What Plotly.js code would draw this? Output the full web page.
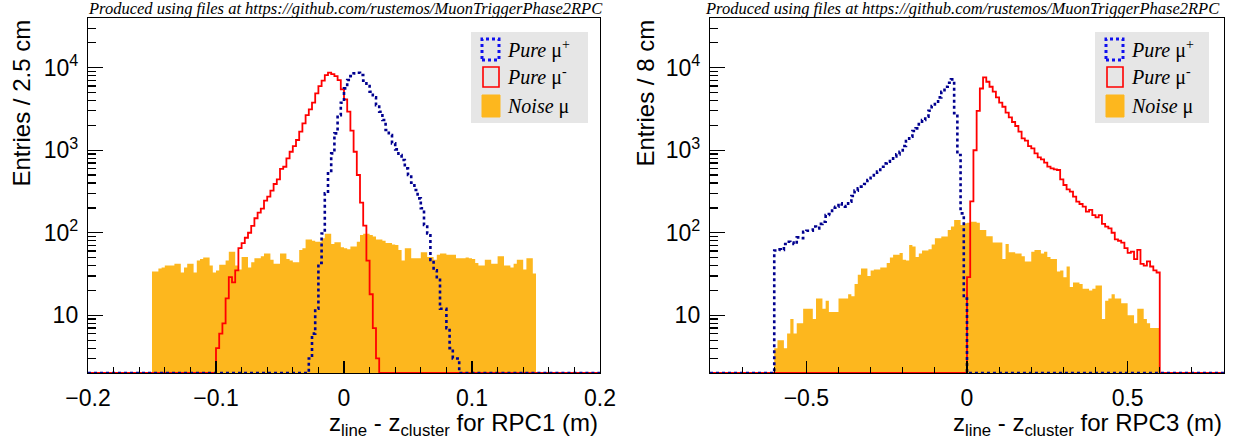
<!DOCTYPE html>
<html>
<head>
<meta charset="utf-8">
<script src="https://cdn.plot.ly/plotly-3.0.1.min.js"></script>
<style>
  html, body { margin: 0; padding: 0; background: #ffffff; }
  #chart { width: 1235px; height: 443px; }
</style>
</head>
<body>
<div id="chart"></div>
<script>
// ---------------- DATA ----------------
// RPC1 histograms: 160 bins of 0.0025 m from -0.2 to 0.2
const rpc1Range = [-0.2, 0.2];
const rpc1BinWidth = 0.0025;
const rpc1NoiseStart = -0.15;
const rpc1Noise = [34,34,37,38,40,40,40,42,42,33,38,42,42,33,46,48,50,50,40,33,
  35,41,41,46,59,59,40,36,51,51,38,44,49,49,52,56,56,47,42,42,
  56,56,48,46,44,44,62,65,83,83,80,78,78,86,97,97,73,77,77,67,
  65,63,68,68,78,94,97,97,94,90,83,83,80,75,75,72,71,62,46,65,
  65,49,49,49,58,58,51,51,47,54,56,56,54,54,54,49,49,49,50,49,
  48,43,40,40,47,47,42,42,52,52,40,40,38,42,47,47,36,49,49,32];
const rpc1MinusStart = -0.1;
const rpc1Minus = [4,6,8,16,29,25,35,65,75,87,100,121,150,175,196,245,274,324,390,444,
  595,631,796,959,1124,1330,1677,2114,2666,3124,3765,4886,5994,6954,8148,8695,8376,7920,7085,5458,
  4130,2930,1725,959,501,232,122,46,18,7,3];
const rpc1PlusStart = -0.0275;
const rpc1Plus = [3,6,12,43,98,300,525,916,1600,2666,3765,5610,7085,7920,8530,8695,8148,6954,5994,5117,
  4365,3524,2930,2322,1758,1528,1211,1025,875,761,603,501,404,330,261,198,124,98,47,35,
  27,12,12,7,4,3,3];

// RPC3 histograms: 160 bins of 0.01 m from -0.8 to 0.8
const rpc3Range = [-0.8, 0.8];
const rpc3BinWidth = 0.01;
const rpc3NoiseStart = -0.6;
const rpc3Noise = [4,5,5,4,6,9,6,8,8,12,12,12,9,16,16,12,15,11,11,11,
  16,16,16,18,17,24,31,37,37,30,35,36,36,38,38,43,50,54,54,57,
  47,46,71,68,51,56,61,61,63,72,86,86,90,90,108,119,143,143,124,130,
  132,136,136,132,108,108,91,91,76,76,76,48,73,58,58,56,56,52,45,45,
  59,62,62,56,59,51,48,48,34,35,29,39,22,25,25,24,21,21,20,21,
  23,23,9,15,16,18,16,16,14,14,10,10,8,12,12,9,8,7,7,7];
const rpc3PlusStart = -0.6;
const rpc3Plus = [61,63,62,73,78,76,73,88,86,103,106,106,119,113,128,136,164,169,201,207,
  227,211,207,238,279,324,345,362,390,436,465,501,550,632,693,726,789,843,891,959,
  1124,1292,1458,1708,1839,2077,2322,2548,3013,3430,3870,4365,5117,5880,6570,7210,2800,875,172,16];
const rpc3MinusStart = 0.0;
const rpc3Minus = [29,240,1000,3000,5600,7640,6760,5880,5115,4365,3765,3365,2850,2500,2197,1965,1677,1392,1304,1124,
  1054,916,820,775,706,632,603,587,576,444,379,336,315,274,238,223,207,180,189,164,
  154,164,128,119,113,100,83,80,76,65,57,59,48,62,42,40,45,39,35,33];

const yRangeVals = [2, 40000];
const seriesNames = ['Pure \u03bc+', 'Pure \u03bc-', 'Noise \u03bc'];

// ---------------- HELPERS ----------------
const W = 1235, H = 443;
const PX = x => x / W;
const PY = y => 1 - y / H;
const FILL_FLOOR = 1; // below the axis minimum so the fill reaches the frame

function fullCounts(range, w, start, vals) {
  const n = Math.round((range[1] - range[0]) / w);
  const arr = new Array(n).fill(0);
  const i0 = Math.round((start - range[0]) / w);
  vals.forEach((v, j) => { arr[i0 + j] = v; });
  return arr;
}
function stepTrace(range, w, start, vals, xa, ya, line, name) {
  const counts = fullCounts(range, w, start, vals);
  const n = counts.length;
  const xs = [], ys = [];
  for (let i = 0; i < n; i++) { xs.push(range[0] + i * w); ys.push(Math.max(counts[i], yRangeVals[0])); }
  xs.push(range[0] + n * w); ys.push(Math.max(counts[n - 1], yRangeVals[0]));
  return { type: 'scatter', mode: 'lines', x: xs, y: ys, xaxis: xa, yaxis: ya,
           line: Object.assign({ shape: 'hv' }, line), name: name, showlegend: false, hoverinfo: 'skip' };
}
function fillTrace(w, start, vals, xa, ya, name) {
  const xs = [start], ys = [FILL_FLOOR];
  vals.forEach((v, j) => { xs.push(start + j * w); ys.push(v); });
  xs.push(start + vals.length * w); ys.push(FILL_FLOOR);
  return { type: 'scatter', mode: 'lines', x: xs, y: ys, xaxis: xa, yaxis: ya, name: name,
           showlegend: false, hoverinfo: 'skip', fill: 'toself', fillcolor: ORANGE,
           line: { shape: 'hv', width: 0, color: ORANGE } };
}

const ORANGE = 'rgb(253,183,30)';
const RED = '#ff0000';
const BLUE = '#00008f';
const redLine = { color: RED, width: 1.8 };
const blueLine = { color: BLUE, width: 2.6, dash: 'dot' };

const traces = [
  fillTrace(rpc1BinWidth, rpc1NoiseStart, rpc1Noise, 'x', 'y', seriesNames[2]),
  stepTrace(rpc1Range, rpc1BinWidth, rpc1MinusStart, rpc1Minus, 'x', 'y', redLine, seriesNames[1]),
  stepTrace(rpc1Range, rpc1BinWidth, rpc1PlusStart, rpc1Plus, 'x', 'y', blueLine, seriesNames[0]),
  fillTrace(rpc3BinWidth, rpc3NoiseStart, rpc3Noise, 'x2', 'y2', seriesNames[2]),
  stepTrace(rpc3Range, rpc3BinWidth, rpc3MinusStart, rpc3Minus, 'x2', 'y2', redLine, seriesNames[1]),
  stepTrace(rpc3Range, rpc3BinWidth, rpc3PlusStart, rpc3Plus, 'x2', 'y2', blueLine, seriesNames[0])
];

// ---------------- AXES ----------------
const SANS = 'Liberation Sans, Arial, Helvetica, sans-serif';
const SERIF = 'Liberation Serif, Times New Roman, serif';
const tickFont = { family: SANS, size: 23, color: '#000' };

const logMinor = [];
[1, 10, 100, 1000, 10000].forEach(d => { for (let k = 2; k <= 9; k++) { const v = k * d; if (v > yRangeVals[0] && v < yRangeVals[1]) logMinor.push(v); } });

function xAxis(domain, range, vals, text, minorStep, anchor) {
  return { domain: domain, range: range, anchor: anchor, tickmode: 'array', tickvals: vals, ticktext: text,
    ticks: 'inside', ticklen: 12, tickwidth: 1.2, tickcolor: '#000',
    minor: { dtick: minorStep, tick0: 0, ticks: 'inside', ticklen: 6, tickwidth: 1.2, tickcolor: '#000', showgrid: false },
    showline: true, mirror: true, linecolor: '#000', linewidth: 1.2, showgrid: false, zeroline: false,
    tickfont: tickFont, ticklabelstandoff: 4, fixedrange: true };
}
function yAxis(anchor) {
  return { type: 'log', domain: [PY(373), PY(18)], range: [Math.log10(yRangeVals[0]), Math.log10(yRangeVals[1])], anchor: anchor,
    tickmode: 'array', tickvals: [10, 100, 1000, 10000], ticktext: ['10', '10<sup>2</sup>', '10<sup>3</sup>', '10<sup>4</sup>'],
    ticks: 'inside', ticklen: 15, tickwidth: 1.2, tickcolor: '#000',
    minor: { tickmode: 'array', tickvals: logMinor, ticks: 'inside', ticklen: 8, tickwidth: 1.2, tickcolor: '#000', showgrid: false },
    showline: true, mirror: true, linecolor: '#000', linewidth: 1.2, showgrid: false, zeroline: false,
    tickfont: tickFont, ticklabelstandoff: 4, fixedrange: true };
}

// ---------------- LEGENDS & TEXT ----------------
const shapes = [];
const annotations = [];
function addLegend(x0, x1, sx, tx) {
  shapes.push({ type: 'rect', xref: 'paper', yref: 'paper', x0: PX(x0), x1: PX(x1), y0: PY(123), y1: PY(32),
    fillcolor: '#e6e6e6', line: { width: 0 }, layer: 'above' });
  shapes.push({ type: 'rect', xref: 'paper', yref: 'paper', x0: PX(sx), x1: PX(sx + 17), y0: PY(60), y1: PY(39),
    line: { color: '#1010ee', width: 3, dash: 'dot' }, layer: 'above' });
  shapes.push({ type: 'rect', xref: 'paper', yref: 'paper', x0: PX(sx + 1), x1: PX(sx + 17), y0: PY(87), y1: PY(67),
    line: { color: RED, width: 1.6 }, layer: 'above' });
  shapes.push({ type: 'rect', xref: 'paper', yref: 'paper', x0: PX(sx), x1: PX(sx + 18), y0: PY(117), y1: PY(95),
    fillcolor: ORANGE, line: { color: ORANGE, width: 1 }, layer: 'above' });
  const labels = ['<i>Pure</i> \u03bc<sup>+</sup>', '<i>Pure</i> \u03bc<sup>-</sup>', '<i>Noise</i> \u03bc'];
  [49, 77, 106].forEach((y, i) => {
    annotations.push({ xref: 'paper', yref: 'paper', x: PX(tx), y: PY(y), xanchor: 'left', yanchor: 'middle',
      text: labels[i], showarrow: false, font: { family: SERIF, size: 20, color: '#000' } });
  });
}
addLegend(471, 588, 482, 505);
addLegend(1095, 1209, 1106, 1129);

const topNote = '<i>Produced using files at https://github.com/rustemos/MuonTriggerPhase2RPC</i>';
[[605, 'Entries / 2.5 cm', 21, 'z<sub>line</sub> - z<sub>cluster</sub> for RPC1 (m)', 600],
 [1222, 'Entries / 8 cm', 645, 'z<sub>line</sub> - z<sub>cluster</sub> for RPC3 (m)', 1224]].forEach(p => {
  annotations.push({ xref: 'paper', yref: 'paper', x: PX(p[0]), y: PY(8.5), xanchor: 'right', yanchor: 'middle',
    text: topNote, showarrow: false, font: { family: SERIF, size: 16.5, color: '#000' } });
  annotations.push({ xref: 'paper', yref: 'paper', x: PX(p[2]), y: PY(18), xanchor: 'center', yanchor: 'top', textangle: -90,
    text: p[1], showarrow: false, font: { family: SANS, size: 24, color: '#000' } });
  annotations.push({ xref: 'paper', yref: 'paper', x: PX(p[4]), y: PY(442), xanchor: 'right', yanchor: 'bottom',
    text: p[3], showarrow: false, font: { family: SANS, size: 24, color: '#000' } });
});

const layout = {
  width: W, height: H, margin: { l: 0, r: 0, t: 0, b: 0 },
  paper_bgcolor: '#ffffff', plot_bgcolor: '#ffffff',
  showlegend: false,
  xaxis: xAxis([PX(88), PX(600)], rpc1Range, [-0.2, -0.1, 0, 0.1, 0.2], ['\u22120.2', '\u22120.1', '0', '0.1', '0.2'], 0.02, 'y'),
  yaxis: yAxis('x'),
  xaxis2: xAxis([PX(710), PX(1224)], rpc3Range, [-0.5, 0, 0.5], ['\u22120.5', '0', '0.5'], 0.1, 'y2'),
  yaxis2: yAxis('x2'),
  shapes: shapes, annotations: annotations
};

Plotly.newPlot('chart', traces, layout, { staticPlot: true, displayModeBar: false });
</script>
</body>
</html>
